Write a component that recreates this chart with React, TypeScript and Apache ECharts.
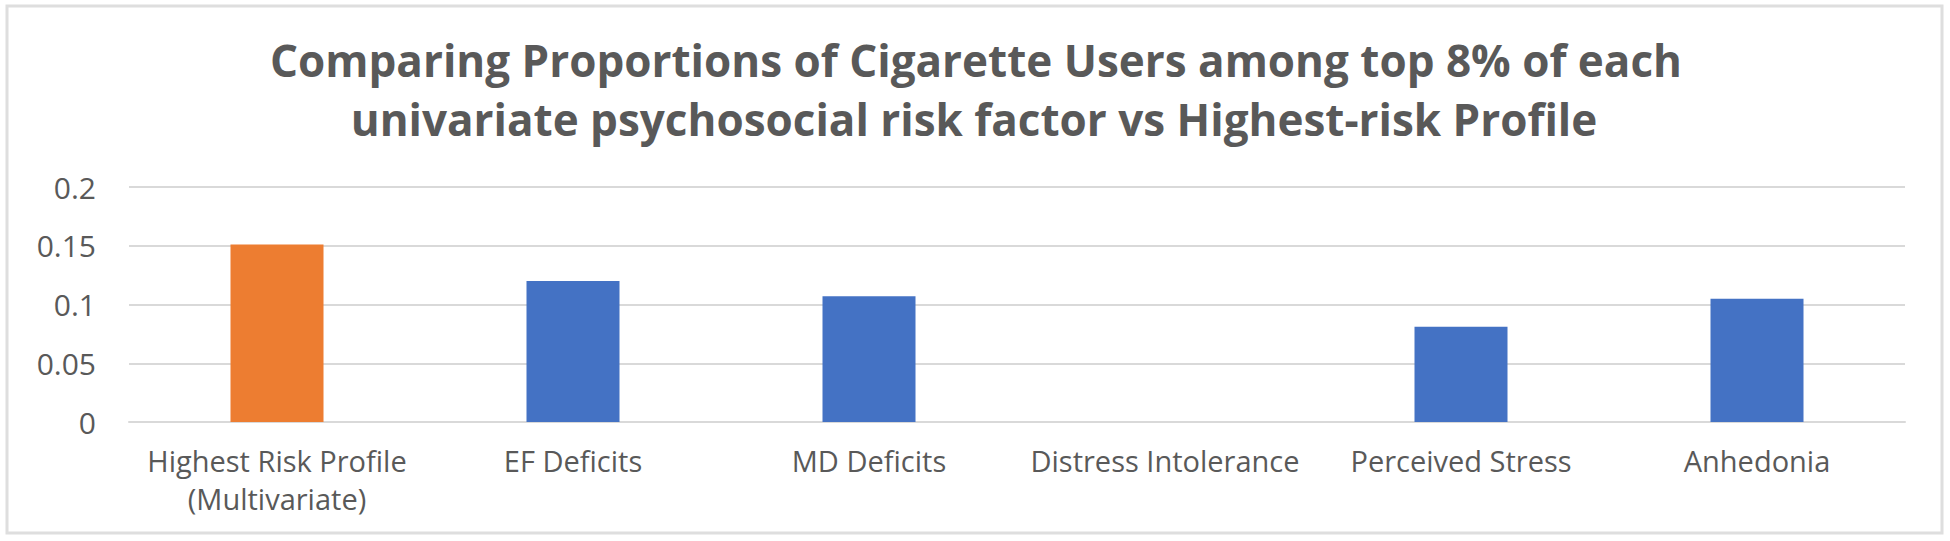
import React, { useEffect, useRef } from "react";
import * as echarts from "echarts";

const titleLines = [
  "Comparing Proportions of Cigarette Users among top 8% of each",
  "univariate psychosocial risk factor vs Highest-risk Profile",
];
const categories = [
  "Highest Risk Profile\n(Multivariate)",
  "EF Deficits",
  "MD Deficits",
  "Distress Intolerance",
  "Perceived Stress",
  "Anhedonia",
];
const values = [0.151, 0.12, 0.107, 0, 0.081, 0.105];
const barColors = ["#ED7D31", "#4472C4", "#4472C4", "#4472C4", "#4472C4", "#4472C4"];
const yMin = 0;
const yMax = 0.2;
const yStep = 0.05;

const FONT = "'Open Sans', sans-serif";
const TEXT = "#595959";

export default function App() {
  const ref = useRef<HTMLDivElement>(null);
  useEffect(() => {
    if (!ref.current) return;
    const chart = echarts.init(ref.current, null, { renderer: "svg" });
    chart.setOption({
      animation: false,
      backgroundColor: "#ffffff",
      graphic: [
        {
          type: "rect",
          shape: { x: 7, y: 6, width: 1935, height: 527 },
          style: { fill: "none", stroke: "#dedede", lineWidth: 3 },
          silent: true,
        },
        {
          type: "text",
          x: 976,
          y: 60,
          style: {
            text: titleLines[0],
            fontFamily: FONT,
            fontWeight: "bold",
            fontSize: 44,
            fill: TEXT,
            textAlign: "center",
            textVerticalAlign: "middle",
          },
        },
        {
          type: "text",
          x: 974,
          y: 119,
          style: {
            text: titleLines[1],
            fontFamily: FONT,
            fontWeight: "bold",
            fontSize: 44,
            fill: TEXT,
            textAlign: "center",
            textVerticalAlign: "middle",
          },
        },
      ],
      grid: {
        left: 129,
        right: 45,
        top: 187,
        bottom: 119,
        containLabel: false,
        outerBoundsMode: "none",
      },
      xAxis: {
        type: "category",
        data: categories,
        axisLine: { show: true, lineStyle: { color: "#d9d9d9", width: 2 } },
        axisTick: { show: false },
        axisLabel: {
          color: TEXT,
          fontFamily: FONT,
          fontSize: 29,
          lineHeight: 38,
          margin: 19,
          interval: 0,
        },
      },
      yAxis: {
        type: "value",
        min: yMin,
        max: yMax,
        interval: yStep,
        axisLine: { show: false },
        axisTick: { show: false },
        splitLine: { lineStyle: { color: "#d9d9d9", width: 2 } },
        axisLabel: {
          color: TEXT,
          fontFamily: FONT,
          fontSize: 30,
          margin: 33,
        },
      },
      series: [
        {
          type: "bar",
          data: values.map((v, i) => ({ value: v, itemStyle: { color: barColors[i] } })),
          barWidth: 93,
        },
      ],
    });
    return () => chart.dispose();
  }, []);
  return (
    <div
      ref={ref}
      style={{ position: "fixed", left: 0, top: 0, width: 1950, height: 541 }}
    />
  );
}
